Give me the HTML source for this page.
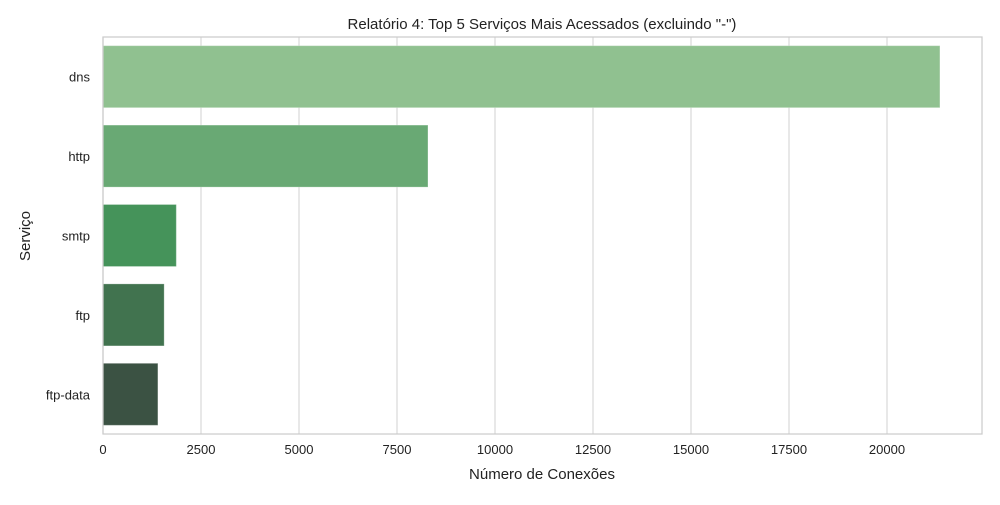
<!DOCTYPE html>
<html><head><meta charset="utf-8"><style>
body{margin:0;background:#fff;font-family:"Liberation Sans","DejaVu Sans",sans-serif;}
</style></head><body>
<svg id="chart" width="1000" height="500" xmlns="http://www.w3.org/2000/svg">
<text x="542" y="29" text-anchor="middle" font-size="15" fill="#222">Relatório 4: Top 5 Serviços Mais Acessados (excluindo "-")</text>
<g id="grid"></g><g id="bars"></g><g id="ticks"></g>
<rect x="103" y="37" width="879" height="397" fill="none" stroke="#ccc" stroke-width="1.25"/>
<text x="542" y="479" text-anchor="middle" font-size="15" fill="#222">Número de Conexões</text>
<text transform="translate(30,236) rotate(-90)" text-anchor="middle" font-size="15" fill="#222">Serviço</text>
</svg>
<script>
const categories=["dns","http","smtp","ftp","ftp-data"];
const values=[21350,8290,1870,1560,1400];
const xTicks=[0,2500,5000,7500,10000,12500,15000,17500,20000];
const colors=["#90c190","#69a974","#45935a","#41734f","#3b5243"];
const NS="http://www.w3.org/2000/svg";
const plotX0=103,pxPer=784/20000,plotTop=37,band=397/5;
const xs=v=>plotX0+v*pxPer;
const g=document.getElementById('grid'),b=document.getElementById('bars'),t=document.getElementById('ticks');
function el(tag,attrs,parent){const e=document.createElementNS(NS,tag);for(const k in attrs)e.setAttribute(k,attrs[k]);parent.appendChild(e);return e;}
xTicks.forEach(v=>{
 const l=el('line',{x1:xs(v),x2:xs(v),y1:plotTop,y2:434,stroke:'#d9d9d9','stroke-width':1.25},g);
 
 
 const tx=el('text',{x:xs(v),y:454,'text-anchor':'middle','font-size':13,fill:'#222'},t);
 tx.textContent=v;
 
 
});
categories.forEach((c,i)=>{
 const cy=plotTop+band*(i+0.5);
 const r=el('rect',{x:plotX0,y:cy-31,width:xs(values[i])-plotX0,height:62,fill:colors[i],stroke:'rgba(255,255,255,0.25)'},b);
 
 
 const tx=el('text',{x:90,y:cy+5,'text-anchor':'end','font-size':13,fill:'#222'},t);
 tx.textContent=c;
 
 
});
</script>
</body></html>
